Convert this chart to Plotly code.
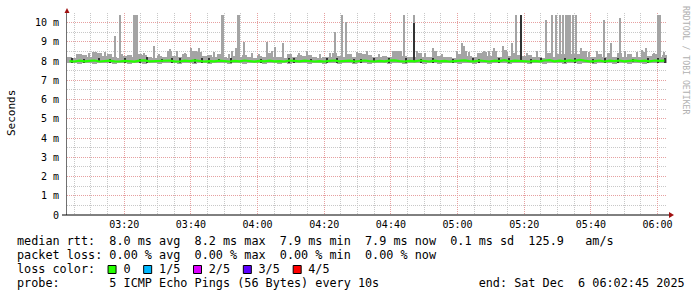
import plotly.graph_objects as go
import pandas as pd

DAY = "2025-12-06 "
START = "03:02:50"
END = "06:02:50"

# ---- smoke band (90 s buckets): outer min / max of the 5 pings and the median
smoke_hi = [8.22, 8.18, 8.35, 8.33, 8.20, 8.45, 8.42, 8.25, 8.35, 8.22,
            8.18, 8.24, 8.30, 8.20, 8.35, 8.33, 8.22, 8.18, 8.26, 8.20,
            8.50, 8.25, 8.20, 8.35, 8.22, 8.50, 8.48, 8.24, 8.30, 8.20,
            8.35, 8.22, 8.18, 8.25, 8.20, 8.30, 8.22, 8.18, 8.24, 8.20,
            8.40, 8.22, 8.20, 8.18, 8.35, 8.22, 8.30, 8.28, 8.30, 8.20,
            8.18, 8.22, 8.20, 8.40, 8.25, 8.20, 8.35, 8.22, 8.40, 8.38,
            8.30, 8.22, 8.20, 8.25, 8.22, 8.55, 8.50, 8.24, 8.20, 8.22,
            8.40, 8.22, 8.20, 8.50, 8.25, 8.20, 8.22, 8.18, 8.35, 8.50,
            8.25, 8.22, 8.40, 8.45, 8.24, 8.50, 8.22, 8.60, 8.25, 8.40,
            8.30, 8.28, 8.30, 8.20, 8.22, 8.18, 8.40, 8.22, 8.35, 8.35,
            8.38, 8.35, 8.35, 8.50, 8.22, 8.20, 8.35, 8.22, 8.40, 8.20,
            8.40, 8.22, 8.35, 8.20, 8.22, 8.45, 8.25, 8.35, 8.22, 8.30]
smoke_lo = [7.88, 7.90, 7.87, 7.89, 7.91, 7.86, 7.88, 7.90, 7.89, 7.87,
            7.90, 7.88, 7.86, 7.89, 7.91, 7.87, 7.88, 7.90, 7.86, 7.89,
            7.88, 7.91, 7.87, 7.89, 7.90, 7.86, 7.88, 7.90, 7.87, 7.89,
            7.91, 7.88, 7.86, 7.90, 7.89, 7.87, 7.88, 7.91, 7.89, 7.86,
            7.88, 7.90, 7.87, 7.89, 7.86, 7.88, 7.91, 7.89, 7.87, 7.90,
            7.88, 7.86, 7.90, 7.89, 7.87, 7.91, 7.88, 7.86, 7.89, 7.90,
            7.87, 7.89, 7.91, 7.88, 7.86, 7.90, 7.88, 7.87, 7.89, 7.91,
            7.88, 7.86, 7.90, 7.89, 7.87, 7.88, 7.91, 7.89, 7.86, 7.88,
            7.90, 7.87, 7.89, 7.88, 7.86, 7.90, 7.91, 7.88, 7.87, 7.89,
            7.88, 7.90, 7.86, 7.89, 7.91, 7.87, 7.88, 7.90, 7.89, 7.86,
            7.88, 7.91, 7.87, 7.89, 7.90, 7.86, 7.88, 7.89, 7.91, 7.87,
            7.89, 7.88, 7.86, 7.90, 7.88, 7.87, 7.91, 7.89, 7.88, 7.90]
median = [8.00, 7.98, 8.02, 7.99, 8.01, 8.03, 7.98, 8.00, 8.02, 7.99,
          7.98, 8.01, 8.00, 7.97, 8.02, 8.04, 7.99, 8.00, 7.98, 8.01,
          8.03, 7.99, 7.98, 8.02, 8.00, 8.04, 8.01, 7.98, 8.00, 7.99,
          8.02, 8.00, 7.98, 8.01, 7.99, 8.03, 8.00, 7.97, 8.01, 7.99,
          8.02, 7.99, 8.00, 7.98, 8.03, 8.01, 7.99, 8.02, 8.00, 7.98,
          8.00, 7.98, 8.01, 8.03, 7.99, 8.00, 8.02, 7.98, 8.01, 8.03,
          8.00, 7.98, 8.01, 7.99, 8.02, 8.04, 8.00, 7.98, 8.01, 7.99,
          8.03, 8.00, 7.98, 8.02, 7.99, 8.01, 7.98, 8.00, 8.02, 8.04,
          8.00, 7.99, 8.03, 8.01, 7.98, 8.02, 8.00, 8.05, 7.99, 8.02,
          8.01, 8.00, 7.98, 8.01, 7.99, 8.03, 8.05, 7.99, 8.02, 8.00,
          8.04, 8.01, 8.06, 8.02, 7.99, 8.00, 8.03, 7.98, 8.02, 8.00,
          8.03, 7.99, 8.01, 8.04, 8.00, 8.02, 7.99, 8.03, 8.01, 8.02]

# ---- single-sample outliers (max ping) in ms
spike_times = ["03:17:14", "03:18:44", "03:22:56", "03:23:14", "03:23:32", "03:23:50",
               "03:28:56", "03:33:44", "03:40:02", "03:42:26", "03:49:20", "03:49:38",
               "03:52:20", "03:53:32", "03:54:08", "03:54:26", "03:55:56", "04:02:50",
               "04:05:14", "04:07:38", "04:23:14", "04:25:20", "04:26:32", "04:43:56",
               "04:46:56", "04:47:50", "04:52:38", "05:01:20", "05:01:56", "05:06:08",
               "05:07:56", "05:10:56", "05:13:38", "05:16:20", "05:17:32", "05:19:02",
               "05:26:32", "05:28:20", "05:29:32", "05:30:44", "05:31:38", "05:32:32",
               "05:32:50", "05:33:08", "05:33:26", "05:33:44", "05:34:38", "05:35:32",
               "05:37:02", "05:43:56", "05:46:02", "05:48:44", "05:56:32", "06:00:08",
               "06:00:26", "06:00:44"]
spike_tops = [9.33, 10.42, 10.42, 10.42, 10.42, 10.42,
              8.80, 8.62, 8.67, 8.70, 10.42, 10.42,
              8.55, 8.67, 10.42, 10.42, 9.00, 9.00,
              8.75, 8.96, 9.50, 10.42, 10.05, 10.42,
              10.42, 8.55, 8.67, 8.96, 8.80, 8.40,
              8.50, 8.70, 8.80, 8.96, 10.42, 10.42,
              10.15, 10.42, 10.42, 10.42, 10.42, 10.42,
              10.42, 10.42, 10.42, 10.42, 10.42, 10.42,
              8.67, 10.15, 8.96, 10.25, 8.70, 10.42,
              10.42, 10.42]

# small outliers just above the smoke band
small_spike_times = ["03:05:50", "03:09:20", "03:14:20", "03:19:20", "03:25:50", "03:30:20",
                     "03:35:50", "03:38:20", "03:46:50", "03:51:20", "03:58:20", "04:00:20",
                     "04:04:20", "04:12:20", "04:14:50", "04:18:50", "04:21:50", "04:29:50",
                     "04:32:50", "04:36:20", "04:41:20", "04:50:20", "04:55:20", "04:59:50",
                     "05:03:20", "05:09:20", "05:14:50", "05:20:50", "05:23:50", "05:39:20",
                     "05:41:50", "05:45:20", "05:50:20", "05:53:50", "05:55:20", "05:58:50",
                     "06:01:50"]
small_spike_tops = [8.35, 8.40, 8.45, 8.38, 8.42, 8.35,
                    8.50, 8.40, 8.45, 8.38, 8.40, 8.35,
                    8.50, 8.40, 8.55, 8.35, 8.42, 8.45,
                    8.50, 8.38, 8.55, 8.42, 8.38, 8.50,
                    8.45, 8.55, 8.45, 8.40, 8.50, 8.45,
                    8.55, 8.40, 8.50, 8.45, 8.60, 8.40,
                    8.45]
spike_base = 8.0

# inner-ping (2nd..4th) outliers drawn dark
dark_spike_times = ["04:46:56", "05:19:02"]
dark_spike_tops = [10.00, 10.42]

# inner-ping speckles around the median
speck_times = ["03:04:20", "03:07:56", "03:12:26", "03:15:44", "03:20:14", "03:24:44",
               "03:26:50", "03:31:20", "03:34:20", "03:36:44", "03:41:14", "03:43:20",
               "03:45:26", "03:48:26", "03:52:02", "04:01:02", "04:09:26", "04:10:56",
               "04:16:02", "04:20:50", "04:23:50", "04:28:56", "04:31:02", "04:34:56",
               "04:39:26", "04:44:32", "04:49:02", "04:52:38", "04:58:38", "05:04:38",
               "05:06:26", "05:12:26", "05:15:26", "05:22:02", "05:25:02", "05:32:14",
               "05:35:14", "05:40:38", "05:44:14", "05:48:08", "05:52:38", "05:57:08",
               "06:00:08", "06:02:14"]
speck_hi = [8.14, 8.12, 8.18, 8.12, 8.15, 8.13, 8.20, 8.12, 8.16, 8.14, 8.12, 8.18,
            8.14, 8.13, 8.16, 8.12, 8.15, 8.18, 8.12, 8.14, 8.16, 8.13, 8.12, 8.15,
            8.14, 8.18, 8.12, 8.16, 8.13, 8.15, 8.12, 8.17, 8.14, 8.13, 8.16, 8.15,
            8.18, 8.12, 8.14, 8.16, 8.13, 8.15, 8.18, 8.14]
speck_lo = [7.92, 7.90, 7.93, 7.91, 7.90, 7.92, 7.91, 7.93, 7.90, 7.92, 7.91, 7.90,
            7.92, 7.93, 7.90, 7.91, 7.92, 7.90, 7.93, 7.91, 7.90, 7.92, 7.91, 7.93,
            7.90, 7.92, 7.91, 7.90, 7.92, 7.93, 7.91, 7.90, 7.92, 7.91, 7.93, 7.90,
            7.92, 7.91, 7.90, 7.92, 7.93, 7.91, 7.90, 7.92]

y_ticks = [0, 1, 2, 3, 4, 5, 6, 7, 8, 9, 10]
y_tick_text = ["0", "1 m", "2 m", "3 m", "4 m", "5 m", "6 m", "7 m", "8 m", "9 m", "10 m"]
x_tick_labels = ["03:20", "03:40", "04:00", "04:20", "04:40", "05:00", "05:20", "05:40", "06:00"]

loss_labels = ["0", "1/5", "2/5", "3/5", "4/5"]
loss_colors = ["#26ff00", "#00b8ff", "#dd00ff", "#5e00ff", "#ff0000"]

legend_lines = [
    "median rtt:  8.0 ms avg  8.2 ms max  7.9 ms min  7.9 ms now  0.1 ms sd  125.9   am/s",
    "packet loss: 0.00 % avg  0.00 % max  0.00 % min  0.00 % now",
    None,
    "probe:       5 ICMP Echo Pings (56 Bytes) every 10s              end: Sat Dec  6 06:02:45 2025",
]

# ---------------------------------------------------------------- build
W, H = 697, 297
L, R, T, B = 67, 667, 13, 215
MONO = "DejaVu Sans Mono"
LIGHT = "#a4a4a4"
DARK = "#333333"


def px_x(px):
    return (px - L) / (R - L)


def px_y(py):
    return (B - py) / (B - T)


step_ms = 90000
t0 = pd.Timestamp(DAY + START)
base_times = [t0 + pd.Timedelta(milliseconds=step_ms * i + step_ms / 2) for i in range(len(median))]

to_ts = lambda s: pd.Timestamp(DAY + s)

fig = go.Figure()
fig.add_trace(go.Bar(x=base_times, y=[h - l for h, l in zip(smoke_hi, smoke_lo)], base=smoke_lo,
                     width=step_ms, marker=dict(color=LIGHT, line=dict(width=0)),
                     hoverinfo="skip"))
all_spike_times = spike_times + small_spike_times
all_spike_tops = spike_tops + small_spike_tops
fig.add_trace(go.Bar(x=[to_ts(s) for s in all_spike_times], y=[v - spike_base for v in all_spike_tops],
                     base=spike_base, width=18000, marker=dict(color=LIGHT, line=dict(width=0)),
                     hoverinfo="skip"))
fig.add_trace(go.Bar(x=[to_ts(s) for s in dark_spike_times], y=[v - spike_base for v in dark_spike_tops],
                     base=spike_base, width=18000, marker=dict(color=DARK, line=dict(width=0)),
                     hoverinfo="skip"))
fig.add_trace(go.Bar(x=[to_ts(s) for s in speck_times], y=[h - l for h, l in zip(speck_hi, speck_lo)],
                     base=speck_lo, width=30000, marker=dict(color=DARK, line=dict(width=0)),
                     hoverinfo="skip"))
fig.add_trace(go.Scatter(x=base_times, y=median, mode="lines",
                         line=dict(color=loss_colors[0], width=2.2), hoverinfo="skip"))

shapes = []
# x axis line with arrow
shapes.append(dict(type="line", xref="paper", yref="paper", x0=px_x(62), x1=px_x(670),
                   y0=0, y1=0, line=dict(color="#000000", width=1)))
shapes.append(dict(type="path", xref="paper", yref="paper",
                   path=f"M {px_x(669)},{px_y(212)} L {px_x(674)},{px_y(215)} L {px_x(669)},{px_y(218)} Z",
                   fillcolor="#a01010", line=dict(width=0)))
shapes.append(dict(type="path", xref="paper", yref="paper",
                   path=f"M {px_x(64.5)},{px_y(13)} L {px_x(67)},{px_y(8)} L {px_x(69.5)},{px_y(13)} Z",
                   fillcolor="#a01010", line=dict(width=0)))

annotations = []
char_w = 7.12
text_x = 16
line_y = [241, 255, 269, 283]
for txt, yy in zip(legend_lines, line_y):
    if txt is None:
        continue
    annotations.append(dict(text=txt.replace(" ", "\u00a0"), xref="paper", yref="paper",
                            x=px_x(text_x - 1), y=px_y(yy), xanchor="left", yanchor="middle",
                            showarrow=False, font=dict(family=MONO, size=11.8, color="#000000")))

# loss colour row
row = "loss color:"
idx = 13
box_idx = []
for lab in loss_labels:
    row = row.ljust(idx)
    box_idx.append(idx)
    row += "  " + lab
    idx = len(row) + 2
annotations.append(dict(text=row.replace(" ", "\u00a0"), xref="paper", yref="paper",
                        x=px_x(text_x - 1), y=px_y(line_y[2]), xanchor="left", yanchor="middle",
                        showarrow=False, font=dict(family=MONO, size=11.8, color="#000000")))
for bi, col in zip(box_idx, loss_colors):
    bx = text_x + bi * char_w
    shapes.append(dict(type="rect", xref="paper", yref="paper",
                       x0=px_x(bx - 0.5), x1=px_x(bx + 7.5),
                       y0=px_y(line_y[2] + 4.5), y1=px_y(line_y[2] - 3.5),
                       fillcolor=col, line=dict(color="#000000", width=1)))

annotations.append(dict(text="Seconds", xref="paper", yref="paper", x=px_x(11), y=px_y(113),
                        textangle=-90, showarrow=False, xanchor="center", yanchor="middle",
                        font=dict(family=MONO, size=11, color="#000000")))
annotations.append(dict(text="RRDTOOL / TOBI OETIKER", xref="paper", yref="paper",
                        x=px_x(686), y=px_y(60), textangle=90, showarrow=False,
                        xanchor="center", yanchor="middle",
                        font=dict(family=MONO, size=8.2, color="#b0b0b0")))

grid_major = "#e6a0a0"
grid_minor = "#c8c8c8"

fig.update_layout(
    width=W, height=H, margin=dict(l=L, r=W - R, t=T, b=H - B),
    paper_bgcolor="white", plot_bgcolor="white",
    barmode="overlay", bargap=0, showlegend=False,
    shapes=shapes, annotations=annotations,
    xaxis=dict(type="date", range=[DAY + START, DAY + END],
               tickmode="array", tickvals=[DAY + s for s in x_tick_labels], ticktext=x_tick_labels,
               showgrid=True, gridcolor=grid_major, griddash="1px,1px", gridwidth=1,
               minor=dict(tickmode="linear", tick0=DAY + "03:00:00", dtick=300000,
                          showgrid=True, gridcolor=grid_minor, griddash="1px,1px", gridwidth=1),
               showline=False, zeroline=False, ticks="",
               tickfont=dict(family=MONO, size=10, color="#000000"), ticklabelstandoff=2),
    yaxis=dict(range=[0, 10.5], tickmode="array", tickvals=y_ticks, ticktext=y_tick_text,
               showgrid=True, gridcolor=grid_major, griddash="1px,1px", gridwidth=1,
               minor=dict(tickmode="linear", tick0=0, dtick=0.5,
                          showgrid=True, gridcolor=grid_minor, griddash="1px,1px", gridwidth=1),
               showline=True, linecolor="#707070", linewidth=1, zeroline=False, ticks="",
               tickfont=dict(family=MONO, size=10, color="#000000"), ticklabelstandoff=5),
)

fig.write_html("out.html")
